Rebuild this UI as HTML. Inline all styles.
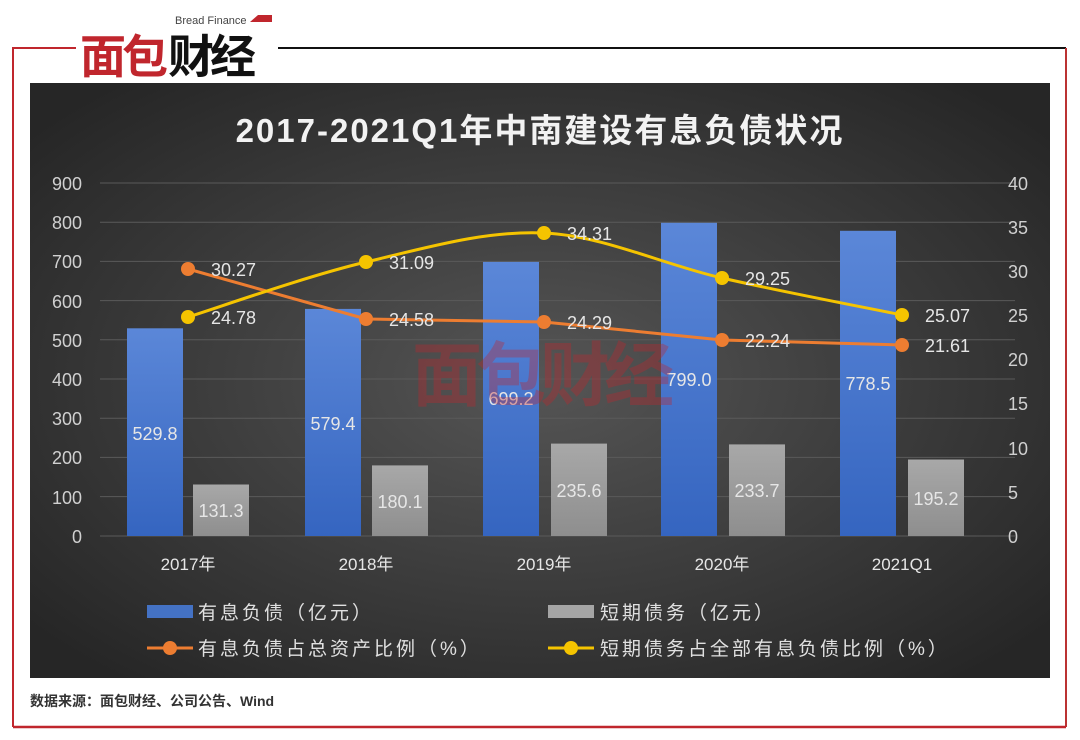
<!DOCTYPE html>
<html><head><meta charset="utf-8"><style>
body{margin:0;background:#fff;width:1080px;height:740px;overflow:hidden;font-family:"Liberation Sans","Noto Sans CJK SC",sans-serif}
</style></head><body>
<svg width="1080" height="740" xmlns="http://www.w3.org/2000/svg" style="position:absolute;left:0;top:0">
<defs>
<radialGradient id="bg" cx="50%" cy="50%" r="65%">
<stop offset="0" stop-color="#555"/><stop offset="1" stop-color="#262626"/></radialGradient>
<linearGradient id="bl" x1="0" y1="0" x2="0" y2="1"><stop offset="0" stop-color="#5b87d8"/><stop offset="1" stop-color="#3565c0"/></linearGradient>
<linearGradient id="gr" x1="0" y1="0" x2="0" y2="1"><stop offset="0" stop-color="#a8a8a8"/><stop offset="1" stop-color="#8e8e8e"/></linearGradient>
</defs>
<!-- frame -->
<path d="M13,727 V48 H76" stroke="#c0262d" stroke-width="2" fill="none"/>
<line x1="278" y1="48" x2="1066" y2="48" stroke="#111" stroke-width="2"/>
<line x1="1066" y1="48" x2="1066" y2="727" stroke="#b33" stroke-width="2"/>
<line x1="13" y1="727" x2="1066" y2="727" stroke="#c0262d" stroke-width="2.5"/>
<!-- logo -->
<text x="175" y="24" font-size="11" fill="#444">Bread Finance</text>
<polygon points="250,22 258,15 272,15 272,22" fill="#c0262d"/>
<text x="80" y="73" font-size="46" font-weight="bold" fill="#c0262d" font-family="'Noto Sans CJK SC',sans-serif" letter-spacing="-4">面包</text>
<text x="168" y="73" font-size="46" font-weight="bold" fill="#111" font-family="'Noto Sans CJK SC',sans-serif" letter-spacing="-4">财经</text>
<!-- panel -->
<rect x="30" y="83" width="1020" height="595" fill="url(#bg)"/>
<text x="540" y="142" text-anchor="middle" font-size="33" font-weight="bold" fill="#f2f2f2" letter-spacing="2">2017-2021Q1年中南建设有息负债状况</text>
<g stroke="#5a5a5a" stroke-width="1">
<line x1="100" x2="1015" y1="183" y2="183"/><line x1="100" x2="1015" y1="222.2" y2="222.2"/><line x1="100" x2="1015" y1="261.4" y2="261.4"/><line x1="100" x2="1015" y1="300.6" y2="300.6"/><line x1="100" x2="1015" y1="339.8" y2="339.8"/><line x1="100" x2="1015" y1="379" y2="379"/><line x1="100" x2="1015" y1="418.2" y2="418.2"/><line x1="100" x2="1015" y1="457.4" y2="457.4"/><line x1="100" x2="1015" y1="496.6" y2="496.6"/><line x1="100" x2="1015" y1="536" y2="536"/>
</g>
<g font-size="18" fill="#d0d0d0" text-anchor="end">
<text x="82" y="190">900</text><text x="82" y="229">800</text><text x="82" y="268">700</text><text x="82" y="308">600</text><text x="82" y="347">500</text><text x="82" y="386">400</text><text x="82" y="425">300</text><text x="82" y="464">200</text><text x="82" y="504">100</text><text x="82" y="543">0</text>
</g>
<g font-size="18" fill="#d0d0d0">
<text x="1008" y="190">40</text><text x="1008" y="234">35</text><text x="1008" y="278">30</text><text x="1008" y="322">25</text><text x="1008" y="366">20</text><text x="1008" y="410">15</text><text x="1008" y="455">10</text><text x="1008" y="499">5</text><text x="1008" y="543">0</text>
</g>
<!-- bars -->
<g fill="url(#bl)">
<rect x="127" y="328.3" width="56" height="207.7"/><rect x="305" y="308.9" width="56" height="227.1"/><rect x="483" y="261.9" width="56" height="274.1"/><rect x="661" y="222.8" width="56" height="313.2"/><rect x="840" y="230.8" width="56" height="305.2"/>
</g>
<g fill="url(#gr)">
<rect x="193" y="484.5" width="56" height="51.5"/><rect x="372" y="465.4" width="56" height="70.6"/><rect x="551" y="443.6" width="56" height="92.4"/><rect x="729" y="444.4" width="56" height="91.6"/><rect x="908" y="459.5" width="56" height="76.5"/>
</g>
<g font-size="18" fill="#e6e6e6" text-anchor="middle">
<text x="155" y="440">529.8</text><text x="333" y="430">579.4</text><text x="511" y="405">699.2</text><text x="689" y="386">799.0</text><text x="868" y="390">778.5</text>
<text x="221" y="517">131.3</text><text x="400" y="508">180.1</text><text x="579" y="497">235.6</text><text x="757" y="497">233.7</text><text x="936" y="505">195.2</text>
</g>
<!-- watermark -->
<text x="540" y="400" text-anchor="middle" font-size="70" font-weight="bold" fill="#c0262d" opacity="0.35" font-family="'Noto Sans CJK SC',sans-serif" letter-spacing="-6">面包财经</text>
<!-- lines -->
<polyline points="188,269 366,319 544,322 722,340 902,345" fill="none" stroke="#ed7d31" stroke-width="3"/>
<path d="M188,317 C217.7,307.8 306.7,276 366,262 C425.3,248 484.7,230.3 544,233 C603.3,235.7 662.3,264.3 722,278 C781.7,291.7 872,308.8 902,315" fill="none" stroke="#f5c400" stroke-width="3"/>
<g fill="#ed7d31"><circle cx="188" cy="269" r="7"/><circle cx="366" cy="319" r="7"/><circle cx="544" cy="322" r="7"/><circle cx="722" cy="340" r="7"/><circle cx="902" cy="345" r="7"/></g>
<g fill="#f5c400"><circle cx="188" cy="317" r="7"/><circle cx="366" cy="262" r="7"/><circle cx="544" cy="233" r="7"/><circle cx="722" cy="278" r="7"/><circle cx="902" cy="315" r="7"/></g>
<g font-size="18" fill="#e6e6e6">
<text x="211" y="276">30.27</text><text x="389" y="326">24.58</text><text x="567" y="329">24.29</text><text x="745" y="347">22.24</text><text x="925" y="352">21.61</text>
<text x="211" y="324">24.78</text><text x="389" y="269">31.09</text><text x="567" y="240">34.31</text><text x="745" y="285">29.25</text><text x="925" y="322">25.07</text>
</g>
<g font-size="17" fill="#e6e6e6" text-anchor="middle">
<text x="188" y="570">2017年</text><text x="366" y="570">2018年</text><text x="544" y="570">2019年</text><text x="722" y="570">2020年</text><text x="902" y="570">2021Q1</text>
</g>
<!-- legend -->
<rect x="147" y="605" width="46" height="13" fill="#4472c4"/>
<rect x="548" y="605" width="46" height="13" fill="#a5a5a5"/>
<line x1="147" y1="648" x2="193" y2="648" stroke="#ed7d31" stroke-width="3"/><circle cx="170" cy="648" r="7" fill="#ed7d31"/>
<line x1="548" y1="648" x2="594" y2="648" stroke="#f5c400" stroke-width="3"/><circle cx="571" cy="648" r="7" fill="#f5c400"/>
<g font-size="19" fill="#e0e0e0" letter-spacing="3">
<text x="198" y="619">有息负债（亿元）</text>
<text x="600" y="619">短期债务（亿元）</text>
<text x="198" y="655">有息负债占总资产比例（%）</text>
<text x="600" y="655">短期债务占全部有息负债比例（%）</text>
</g>
<text x="30" y="706" font-size="14" font-weight="bold" fill="#333">数据来源：面包财经、公司公告、Wind</text>
</svg>
</body></html>
